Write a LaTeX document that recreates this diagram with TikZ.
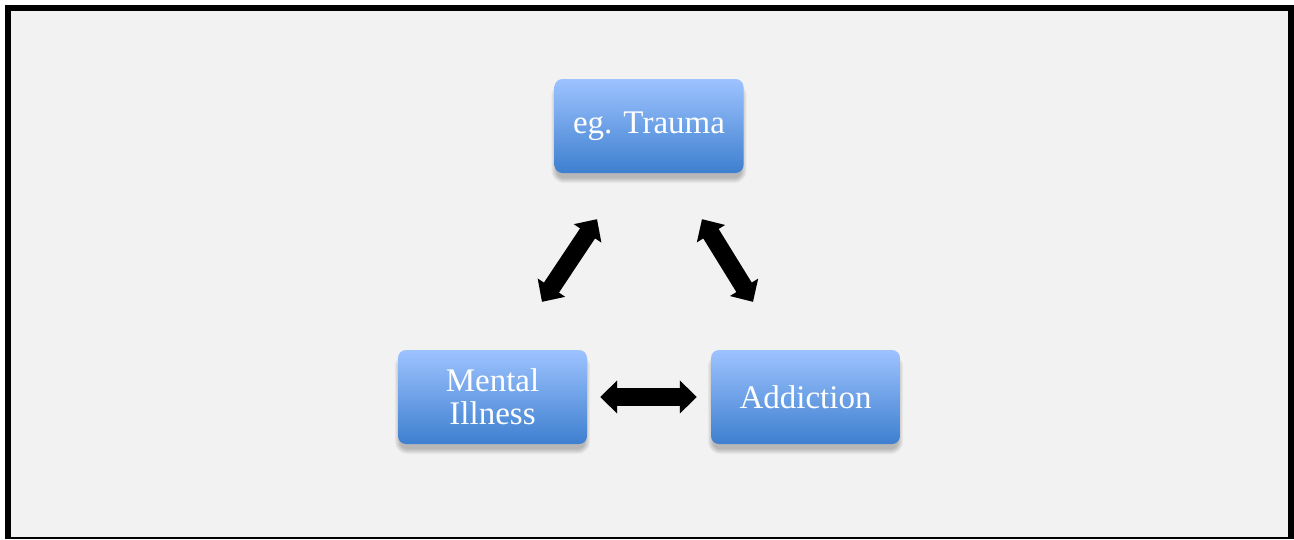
\documentclass[tikz,border=0pt]{standalone}
\usepackage{fontspec}
\setmainfont{Liberation Serif}
\usetikzlibrary{arrows.meta,calc}
\definecolor{pagebg}{HTML}{F2F2F2}
\definecolor{boxtop}{HTML}{9DC3FF}
\definecolor{boxbot}{HTML}{3E7FCF}
\pgfdeclarelayer{paper}
\pgfdeclarelayer{shade}
\pgfsetlayers{paper,shade,main}
\tikzset{
  box/.style={rounded corners=8pt, minimum width=189pt, minimum height=94pt,
    top color=boxtop, bottom color=boxbot, draw=none, text=white, align=center,
    font=\fontsize{33}{33}\selectfont, inner sep=0pt},
  twoway/.style={line width=18pt, black,
    {Triangle[length=17pt, width=32pt]}-{Triangle[length=17pt, width=32pt]}},
  twowayshadow/.style={twoway, black, opacity=0.2}
}
% soft shadow under a box: stacked translucent rounded rectangles
\newcommand{\softshadow}[1]{%
  \foreach \e in {5,4,3,2,1,0}{
    \fill[black, opacity=0.045, rounded corners=8pt+\e pt]
      ($(#1.south west)+(2-\e,5+\e)$) rectangle ($(#1.north east)+(-2+\e,9-\e)$);
  }}
\begin{document}
\begin{tikzpicture}[x=1pt, y=-1pt]
  \useasboundingbox (0,0) rectangle (1294,539);

  % the three boxes
  \node[box] (trauma) at (649,126) {eg. Trauma};
  \node[box] (mental) at (492.5,397) {Mental\\Illness};
  \node[box] (addict) at (805.5,397) {Addiction};

  % page frame
  \begin{pgfonlayer}{paper}
    \fill[white] (0,0) rectangle (1294,539);
    \fill[black] (5,5) rectangle (1294,539);
    \fill[pagebg] (11,11) rectangle (1288,537);
  \end{pgfonlayer}

  % box shadows
  \begin{pgfonlayer}{shade}
    \softshadow{trauma}
    \softshadow{mental}
    \softshadow{addict}
  \end{pgfonlayer}

  % end points of the slanted arrows
  \coordinate (ml) at ($(mental.north)+(49.5,-48)$);
  \coordinate (tl) at ($(trauma.south)+(-52,46)$);
  \coordinate (tr) at ($(trauma.south)+(53,46)$);
  \coordinate (ar) at ($(addict.north)+(-52.5,-48)$);

  % arrow shadows
  \begin{scope}[shift={(1.5,3)}]
    \draw[twowayshadow] (ml) -- (tl);
    \draw[twowayshadow] (tr) -- (ar);
    \draw[twowayshadow, shorten <=13pt, shorten >=14pt] (mental.east) -- (addict.west);
  \end{scope}

  % double-headed arrows
  \draw[twoway] (ml) -- (tl);
  \draw[twoway] (tr) -- (ar);
  \draw[twoway, shorten <=13pt, shorten >=14pt] (mental.east) -- (addict.west);
\end{tikzpicture}
\end{document}
